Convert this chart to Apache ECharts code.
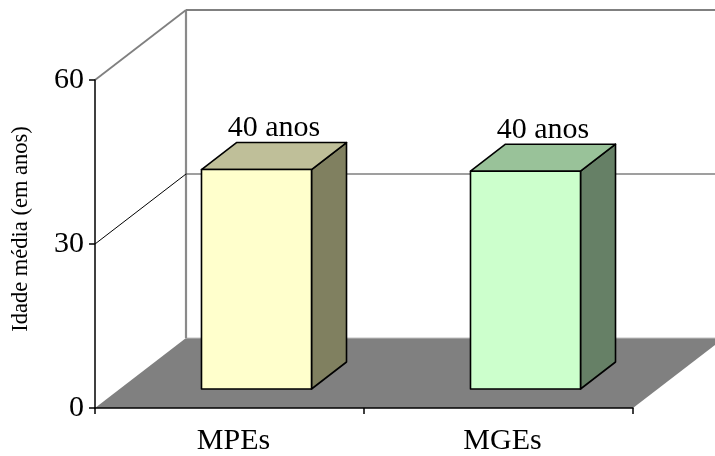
<!DOCTYPE html>
<html>
<head>
<meta charset="utf-8">
<script src="https://cdn.jsdelivr.net/npm/echarts@6.0.0/dist/echarts.min.js"></script>
<style>
  html, body { margin: 0; padding: 0; background: #ffffff; }
  #chart { width: 715px; height: 456px; }
</style>
</head>
<body>
<div id="chart"></div>
<script>
// ---- data ----
const categories = ['MPEs', 'MGEs'];
const values = [39.9, 39.6];
const barLabels = ['40 anos', '40 anos'];
const yMin = 0;
const yMax = 60;
const yInterval = 30;
const yAxisTitle = 'Idade média (em anos)';

// ---- styles ----
const frontColors = ['#FFFFCC', '#CCFFCC'];
const topColors = ['#BFBF99', '#99C299'];
const sideColors = ['#808060', '#668066'];
const FONT = '"Liberation Serif", "Times New Roman", serif';

// depth offsets (3D look)
const WALL_DX = 91, WALL_DY = -70;   // full depth of the floor
const BAR_DX = 35, BAR_DY = -27;     // depth of a bar
const GRID = { left: 95, top: 80, width: 538, height: 330 };
const BAR_SHIFT_X = 27, BAR_SHIFT_Y = -21;

const chart = echarts.init(document.getElementById('chart'), null, { renderer: 'canvas' });

function renderWalls(params, api) {
  const cs = params.coordSys;
  const x = cs.x, y = cs.y, w = cs.width, h = cs.height;
  const yb = y + h;
  const y60 = api.coord([0, yMax])[1];
  const y30 = api.coord([0, yInterval])[1];
  const bx = x + WALL_DX;
  const farR = x + w + WALL_DX + 20;
  return {
    type: 'group',
    children: [
      { type: 'polygon', shape: { points: [[x, yb], [bx, yb + WALL_DY], [x + w + WALL_DX, yb + WALL_DY], [x + w, yb]] },
        style: { fill: '#808080', stroke: null } },
      { type: 'line', shape: { x1: bx, y1: yb + WALL_DY, x2: farR, y2: yb + WALL_DY },
        style: { stroke: '#c0c0c0', lineWidth: 1 } },
      { type: 'line', shape: { x1: bx, y1: y60 + WALL_DY, x2: bx, y2: yb + WALL_DY },
        style: { stroke: '#8a8a8a', lineWidth: 2.2 } },
      { type: 'line', shape: { x1: bx, y1: y60 + WALL_DY, x2: farR, y2: y60 + WALL_DY },
        style: { stroke: '#808080', lineWidth: 2.2 } },
      { type: 'line', shape: { x1: x, y1: y60, x2: bx, y2: y60 + WALL_DY },
        style: { stroke: '#808080', lineWidth: 1.8 } },
      { type: 'line', shape: { x1: x, y1: y30, x2: bx, y2: y30 + WALL_DY },
        style: { stroke: '#000000', lineWidth: 1 } },
      { type: 'line', shape: { x1: bx, y1: y30 + WALL_DY, x2: farR, y2: y30 + WALL_DY },
        style: { stroke: '#404040', lineWidth: 1.2 } }
    ]
  };
}

function renderBar(params, api) {
  const i = params.dataIndex;
  const cat = api.value(0);
  const v = api.value(1);
  const p0 = api.coord([cat, 0]);
  const p1 = api.coord([cat, v]);
  const band = api.size([1, 0])[0];
  const bw = band * 0.409;
  const x0 = p0[0] - bw / 2, x1 = x0 + bw;
  const yT = p1[1], yB = p0[1];
  const border = { stroke: '#000000', lineWidth: 1.6, lineJoin: 'round' };
  return {
    type: 'group',
    children: [
      { type: 'polygon', shape: { points: [[x1, yT], [x1 + BAR_DX, yT + BAR_DY], [x1 + BAR_DX, yB + BAR_DY], [x1, yB]] },
        style: Object.assign({ fill: sideColors[i] }, border) },
      { type: 'polygon', shape: { points: [[x0, yT], [x0 + BAR_DX, yT + BAR_DY], [x1 + BAR_DX, yT + BAR_DY], [x1, yT]] },
        style: Object.assign({ fill: topColors[i] }, border) },
      { type: 'rect', shape: { x: x0, y: yT, width: bw, height: yB - yT },
        style: Object.assign({ fill: frontColors[i] }, border) },
      { type: 'text',
        style: { text: barLabels[i], x: (x0 + x1) / 2 + BAR_DX / 2, y: yT + BAR_DY + 1,
                 align: 'center', verticalAlign: 'bottom',
                 fontSize: 30, fontFamily: FONT, fill: '#000000' } }
    ]
  };
}

const option = {
  animation: false,
  backgroundColor: '#ffffff',
  grid: [
    { left: GRID.left, top: GRID.top, width: GRID.width, height: GRID.height },
    { left: GRID.left + BAR_SHIFT_X, top: GRID.top + BAR_SHIFT_Y, width: GRID.width, height: GRID.height }
  ],
  xAxis: [
    { type: 'category', gridIndex: 0, data: categories, boundaryGap: true,
      axisLine: { lineStyle: { color: '#000000', width: 1.5 } },
      axisTick: { show: true, inside: false, length: 6, alignWithLabel: false, lineStyle: { color: '#000000', width: 1.5 } },
      axisLabel: { color: '#000000', fontSize: 30, fontFamily: FONT, margin: 18, padding: [0, 0, 0, 8] },
      splitLine: { show: false }, z: 5 },
    { type: 'category', gridIndex: 1, data: categories, boundaryGap: true, show: false }
  ],
  yAxis: [
    { type: 'value', gridIndex: 0, min: yMin, max: yMax, interval: yInterval,
      name: yAxisTitle, nameLocation: 'middle', nameRotate: 90, nameGap: 62,
      nameTextStyle: { color: '#000000', fontSize: 22.5, fontFamily: FONT, padding: [0, 0, 0, 30] },
      axisLine: { show: true, lineStyle: { color: '#000000', width: 1.5 } },
      axisTick: { show: true, inside: false, length: 6, lineStyle: { color: '#000000', width: 1.5 } },
      axisLabel: { color: '#000000', fontSize: 30, fontFamily: FONT, margin: 11 },
      splitLine: { show: false }, z: 5 },
    { type: 'value', gridIndex: 1, min: yMin, max: yMax, interval: yInterval, show: false }
  ],
  series: [
    { type: 'custom', xAxisIndex: 0, yAxisIndex: 0, z: -1, silent: true, clip: false,
      renderItem: renderWalls, data: [[0, 0]] },
    { type: 'custom', xAxisIndex: 1, yAxisIndex: 1, z: 3, silent: true, clip: false,
      renderItem: renderBar,
      data: categories.map((c, i) => [i, values[i]]) }
  ]
};
chart.setOption(option);
</script>
</body>
</html>
